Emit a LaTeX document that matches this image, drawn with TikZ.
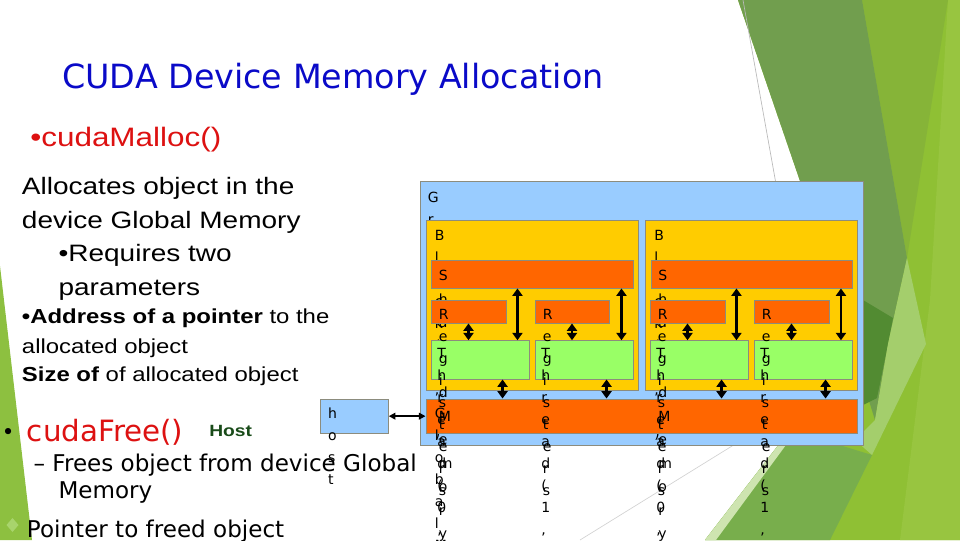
\documentclass[tikz,border=0pt]{standalone}
\usepackage{fontspec}
\setmainfont{DejaVu Sans}
\newfontfamily\arialx[FakeStretch=1.18]{Liberation Sans}
\usetikzlibrary{arrows.meta, calc, fit}

\definecolor{gridblue}{RGB}{153,204,255}
\definecolor{blockyel}{RGB}{255,204,0}
\definecolor{memorange}{RGB}{255,102,0}
\definecolor{thrgreen}{RGB}{153,255,102}
\definecolor{boxedge}{RGB}{140,140,125}
\definecolor{titleblue}{RGB}{10,10,200}
\definecolor{fnred}{RGB}{221,17,17}
\definecolor{hostgreen}{RGB}{25,75,25}
\definecolor{facetlight}{RGB}{143,192,52}
\definecolor{facetbright}{RGB}{152,197,64}
\definecolor{facetmid}{RGB}{134,180,56}
\definecolor{facetdark}{RGB}{113,158,78}
\definecolor{facetdeep}{RGB}{82,139,50}
\definecolor{facetpale}{RGB}{164,206,108}
\definecolor{facetmed}{RGB}{120,174,76}
\definecolor{facetsliver}{RGB}{206,228,176}
\definecolor{stripe}{RGB}{141,192,64}
\definecolor{bulletgreen}{RGB}{168,212,108}

% characters of a label stacked one per line (spaces dropped)
\newdimen\vchsp
\makeatletter
\newcommand\vchars[2]{\vtop{\offinterlineskip\vchsp=#1\relax\vch@loop#2\relax}}
\def\vch@loop#1{\ifx\relax#1\else\hbox{\vrule height .7\vchsp depth .3\vchsp width 0pt#1}\expandafter\vch@loop\fi}
\makeatother

\begin{document}
\begin{tikzpicture}[
    x=0.75pt, y=-0.75pt,
    box/.style={draw=boxedge, line width=0.7pt, inner sep=0pt},
    gridbox/.style={box, fill=gridblue},
    blockbox/.style={box, fill=blockyel},
    membox/.style={box, fill=memorange},
    thrbox/.style={box, fill=thrgreen},
    lbl/.style={anchor=base west, inner sep=0pt, font=\fontsize{10.5}{12}\selectfont},
    dbl/.style={{Triangle[length=5.5pt,width=7.5pt]}-{Triangle[length=5.5pt,width=7.5pt]}, line width=2.2pt},
    hostarr/.style={{Triangle[length=5pt,width=5pt]}-{Triangle[length=5pt,width=5pt]}, line width=1.5pt},
    title/.style={anchor=base west, inner sep=0pt, text=titleblue, font=\fontsize{25}{30}\selectfont},
    arial/.style={anchor=base west, inner sep=0pt, font=\arialx\fontsize{17.8}{21}\selectfont},
    arialsm/.style={arial, font=\arialx\fontsize{15.2}{18}\selectfont},
    comic/.style={anchor=base west, inner sep=0pt, font=\fontsize{17.3}{21}\selectfont},
  ]
  \useasboundingbox (0,0) rectangle (960,540);
  \fill[white] (0,0) rectangle (960,540);
  % theme facets
  \fill[facetlight] (738,0) -- (960,0) -- (960,540) -- (705,540) -- (790,430) -- (800,181) -- cycle;
  \fill[facetbright] (948,0) -- (960,0) -- (960,540) -- (900,540) -- (930,300) -- cycle;
  \fill[facetmid] (862,0) -- (948,0) -- (907,258) -- cycle;
  \fill[facetdark] (738,0) -- (862,0) -- (907,258) -- (888,344) -- (875,420) -- (800,181) -- cycle;
  \fill[facetdeep] (863,300) -- (893,318) -- (888,344) -- (877,398) -- (863,405) -- cycle;
  \fill[facetpale] (907,258) -- (926,344) -- (872,455) -- (855,440) -- (875,420) -- (888,344) -- cycle;
  \fill[facetmed] (705,540) -- (790,430) -- (872,455) -- (830,540) -- cycle;
  \fill[facetsliver] (705,540) -- (790,430) -- (797,430) -- (716,540) -- cycle;
  \draw[gray!55, line width=0.5pt] (743,0) -- (776,184);
  \draw[gray!35, line width=0.5pt] (580,540) -- (745,438);
  \fill[stripe] (0,266) -- (32,540) -- (0,540) -- cycle;
  \fill[bulletgreen] (12.5,518) -- (18.5,525) -- (12.5,532) -- (6.5,525) -- cycle;

  % slide text
  \node[title] (ttl) at (62,88) {CUDA Device Memory Allocation};
  \node[arial, text=fnred, font=\arialx\fontsize{20}{24}\selectfont] (malloc) at (30,146) {•cudaMalloc()};
  \node[arial] (al1) at (21.7,194.3) {Allocates object in the};
  \node[arial] (al2) at (21.7,228.7) {device Global Memory};
  \node[arial] (rq1) at (58.3,261.7) {•Requires two};
  \node[arial] (rq2) at (58.3,295) {parameters};
  \node[arialsm] (pr1) at (21.7,323.3) {\textbf{•Address of a pointer} to the};
  \node[arialsm] (pr2) at (21.7,353.3) {allocated object};
  \node[arialsm] (pr3) at (21.7,381.7) {\textbf{Size of} of allocated object};
  \node[comic, font=\fontsize{16}{18}\selectfont] (fbul) at (1.5,439) {•};
  \node[comic, text=fnred, font=\fontsize{22}{26}\selectfont] (free) at (26.7,441.7) {cudaFree()};
  \node[arial, text=hostgreen, font=\arialx\bfseries\fontsize{12.2}{14}\selectfont] (hostw) at (209,436.5) {Host};
  \node[comic] (fr1) at (33.3,471.7) {– Frees object from device Global};
  \node[comic] (fr2) at (58.3,498.3) {Memory};
  \node[comic] (ptr) at (26.7,537.5) {Pointer to freed object};

  % Grid and blocks
  \node[gridbox, fit={(420,181) (863,445)}] (grid) {};
  \node[lbl] (tgrid) at ($(grid.north west)+(8,22)$) {\vchars{16.5pt}{Grid}};
  \node[blockbox, fit={(426,220) (638,390)}] (blk0) {};
  \node[lbl] (tblk0) at ($(blk0.north west)+(9,21)$) {\vchars{16.5pt}{Block (0, 0)}};
  \node[blockbox, fit={(645.5,220) (857.5,390)}] (blk1) {};
  \node[lbl] (tblk1) at ($(blk1.north west)+(9,21)$) {\vchars{16.5pt}{Block (1, 0)}};
  % Global memory
  \node[membox, fit={(426,399) (857.5,433)}] (gm) {};
  \node[lbl] (tgm) at ($(gm.north west)+(9,20)$) {\vchars{16.5pt}{Global Memory}};
  % Shared memory
  \node[membox, fit={(431.5,260) (633,288)}] (sh0) {};
  \node[lbl] (tsh0) at ($(sh0.north west)+(7.5,21)$) {\vchars{17.6pt}{Shared Memory}};
  \node[membox, fit={(651,260) (852.5,288)}] (sh1) {};
  \node[lbl] (tsh1) at ($(sh1.north west)+(7.5,21)$) {\vchars{17.6pt}{Shared Memory}};
  % Threads
  \node[thrbox, fit={(431,340.7) (529,379)}] (th00) {};
  \node[lbl] (tth00) at ($(th00.north west)+(6.5,18.5)$) {\vchars{16.5pt}{Thread (0, 0)}};
  \node[thrbox, fit={(535,340.7) (633,379)}] (th01) {};
  \node[lbl] (tth01) at ($(th01.north west)+(6.5,18.5)$) {\vchars{16.5pt}{Thread (1, 0)}};
  \node[thrbox, fit={(650,340.7) (748,379)}] (th10) {};
  \node[lbl] (tth10) at ($(th10.north west)+(6.5,18.5)$) {\vchars{16.5pt}{Thread (0, 0)}};
  \node[thrbox, fit={(754,340.7) (852.5,379)}] (th11) {};
  \node[lbl] (tth11) at ($(th11.north west)+(6.5,18.5)$) {\vchars{16.5pt}{Thread (1, 0)}};
  % Registers
  \node[membox, fit={(431,300) (506,323)}] (rg00) {};
  \node[lbl] (trg00) at ($(rg00.north west)+(8,20)$) {\vchars{16.5pt}{Registers}};
  \node[membox, fit={(535,300) (609,323)}] (rg01) {};
  \node[lbl] (trg01) at ($(rg01.north west)+(8,20)$) {\vchars{16.5pt}{Registers}};
  \node[membox, fit={(650,300) (725,323)}] (rg10) {};
  \node[lbl] (trg10) at ($(rg10.north west)+(8,20)$) {\vchars{16.5pt}{Registers}};
  \node[membox, fit={(754,300) (829,323)}] (rg11) {};
  \node[lbl] (trg11) at ($(rg11.north west)+(8,20)$) {\vchars{16.5pt}{Registers}};
  % Host
  \node[gridbox, fit={(320.7,399) (388.3,433.3)}] (host) {};
  \node[lbl] (thost) at ($(host.north west)+(7.5,20)$) {\vchars{16.5pt}{host}};

  % connectors
  \draw[hostarr] (host.east) -- (host.east -| gm.west);
  \coordinate (s00) at ($(th00.north east)+(-12,0)$);
  \coordinate (s01) at ($(th01.north east)+(-12,0)$);
  \coordinate (s10) at ($(th10.north east)+(-12,0)$);
  \coordinate (s11) at ($(th11.north east)+(-12,0)$);
  \draw[dbl] (s00 |- sh0.south) -- (s00);
  \draw[dbl] (s01 |- sh0.south) -- (s01);
  \draw[dbl] (s10 |- sh1.south) -- (s10);
  \draw[dbl] (s11 |- sh1.south) -- (s11);
  \draw[dbl] (rg00.south) -- (rg00.south |- th00.north);
  \draw[dbl] (rg01.south) -- (rg01.south |- th01.north);
  \draw[dbl] (rg10.south) -- (rg10.south |- th10.north);
  \draw[dbl] (rg11.south) -- (rg11.south |- th11.north);
  \coordinate (g00) at ($(th00.south west)+(72,0)$);
  \coordinate (g01) at ($(th01.south west)+(72,0)$);
  \coordinate (g10) at ($(th10.south west)+(72,0)$);
  \coordinate (g11) at ($(th11.south west)+(72,0)$);
  \draw[dbl] (g00) -- (g00 |- gm.north);
  \draw[dbl] (g01) -- (g01 |- gm.north);
  \draw[dbl] (g10) -- (g10 |- gm.north);
  \draw[dbl] (g11) -- (g11 |- gm.north);
\end{tikzpicture}
\end{document}
